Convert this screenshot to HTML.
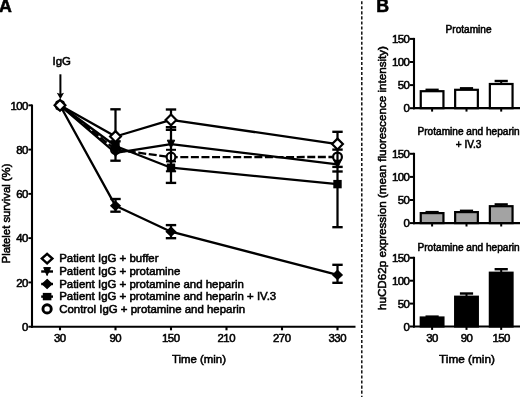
<!DOCTYPE html>
<html><head><meta charset="utf-8"><title>Figure</title>
<style>html,body{margin:0;padding:0;background:#fff}svg{display:block}</style>
</head><body>
<svg width="520" height="397" viewBox="0 0 520 397" font-family="Liberation Sans, Arial, Helvetica, sans-serif" fill="#000"><style>text{stroke:#000;stroke-width:0.55px;paint-order:stroke}</style>
<rect width="520" height="397" fill="#fff"/>
<text x="-0.9" y="12.3" font-size="17.8" font-weight="bold">A</text>
<text x="376.3" y="12.3" font-size="17.8" font-weight="bold">B</text>
<line x1="32.00" y1="104.50" x2="32.00" y2="327.75" stroke="#000" stroke-width="2.1" />
<line x1="30.95" y1="326.70" x2="355.50" y2="326.70" stroke="#000" stroke-width="2.1" />
<line x1="28.40" y1="326.70" x2="32.00" y2="326.70" stroke="#000" stroke-width="1.9000000000000001" />
<text x="27.9" y="330.90" font-size="11.4" text-anchor="end" letter-spacing="-0.5">0</text>
<line x1="28.40" y1="282.42" x2="32.00" y2="282.42" stroke="#000" stroke-width="1.9000000000000001" />
<text x="27.9" y="286.62" font-size="11.4" text-anchor="end" letter-spacing="-0.5">20</text>
<line x1="28.40" y1="238.14" x2="32.00" y2="238.14" stroke="#000" stroke-width="1.9000000000000001" />
<text x="27.9" y="242.34" font-size="11.4" text-anchor="end" letter-spacing="-0.5">40</text>
<line x1="28.40" y1="193.86" x2="32.00" y2="193.86" stroke="#000" stroke-width="1.9000000000000001" />
<text x="27.9" y="198.06" font-size="11.4" text-anchor="end" letter-spacing="-0.5">60</text>
<line x1="28.40" y1="149.58" x2="32.00" y2="149.58" stroke="#000" stroke-width="1.9000000000000001" />
<text x="27.9" y="153.78" font-size="11.4" text-anchor="end" letter-spacing="-0.5">80</text>
<line x1="28.40" y1="105.30" x2="32.00" y2="105.30" stroke="#000" stroke-width="1.9000000000000001" />
<text x="27.9" y="109.50" font-size="11.4" text-anchor="end" letter-spacing="-0.5">100</text>
<line x1="60.00" y1="326.70" x2="60.00" y2="330.30" stroke="#000" stroke-width="2.1" />
<text x="59.80" y="341.8" font-size="11.4" text-anchor="middle" letter-spacing="-0.5">30</text>
<line x1="115.50" y1="326.70" x2="115.50" y2="330.30" stroke="#000" stroke-width="2.1" />
<text x="115.30" y="341.8" font-size="11.4" text-anchor="middle" letter-spacing="-0.5">90</text>
<line x1="171.00" y1="326.70" x2="171.00" y2="330.30" stroke="#000" stroke-width="2.1" />
<text x="170.80" y="341.8" font-size="11.4" text-anchor="middle" letter-spacing="-0.5">150</text>
<line x1="226.50" y1="326.70" x2="226.50" y2="330.30" stroke="#000" stroke-width="2.1" />
<text x="226.30" y="341.8" font-size="11.4" text-anchor="middle" letter-spacing="-0.5">210</text>
<line x1="282.00" y1="326.70" x2="282.00" y2="330.30" stroke="#000" stroke-width="2.1" />
<text x="281.80" y="341.8" font-size="11.4" text-anchor="middle" letter-spacing="-0.5">270</text>
<line x1="337.50" y1="326.70" x2="337.50" y2="330.30" stroke="#000" stroke-width="2.1" />
<text x="337.30" y="341.8" font-size="11.4" text-anchor="middle" letter-spacing="-0.5">330</text>
<text x="199" y="363" font-size="11.4" text-anchor="middle">Time (min)</text>
<text transform="translate(9.8 213.5) rotate(-90)" font-size="11.3" text-anchor="middle">Platelet survival (%)</text>
<text x="61.8" y="65" font-size="11.4" text-anchor="middle">IgG</text>
<line x1="60.40" y1="74.30" x2="60.40" y2="94.50" stroke="#000" stroke-width="2.0" />
<path d="M56.8 92.8 L60.4 99.2 L64.0 92.8 L60.4 94.0 Z" fill="#000"/>
<polyline points="60.00,105.30 115.50,149.69 171.00,157.11 337.50,157.00" fill="none" stroke="#000" stroke-width="2.3" stroke-linejoin="round" stroke-dasharray="8.0 2.58" stroke-dashoffset="1.18"/>
<circle cx="60.00" cy="105.30" r="4.4" fill="#fff" stroke="#000" stroke-width="2.2"/>
<circle cx="115.50" cy="149.69" r="4.4" fill="#fff" stroke="#000" stroke-width="2.2"/>
<circle cx="171.00" cy="157.11" r="4.4" fill="#fff" stroke="#000" stroke-width="2.2"/>
<circle cx="337.50" cy="157.00" r="4.4" fill="#fff" stroke="#000" stroke-width="2.2"/>
<line x1="115.50" y1="109.30" x2="115.50" y2="160.70" stroke="#000" stroke-width="2.25" />
<line x1="110.30" y1="109.30" x2="120.70" y2="109.30" stroke="#000" stroke-width="2.35" />
<line x1="110.30" y1="141.30" x2="120.70" y2="141.30" stroke="#000" stroke-width="2.35" />
<line x1="110.30" y1="160.70" x2="120.70" y2="160.70" stroke="#000" stroke-width="2.35" />
<line x1="115.50" y1="199.00" x2="115.50" y2="211.70" stroke="#000" stroke-width="2.25" />
<line x1="110.30" y1="199.00" x2="120.70" y2="199.00" stroke="#000" stroke-width="2.35" />
<line x1="110.30" y1="211.70" x2="120.70" y2="211.70" stroke="#000" stroke-width="2.35" />
<line x1="171.00" y1="109.50" x2="171.00" y2="182.90" stroke="#000" stroke-width="2.25" />
<line x1="165.80" y1="109.50" x2="176.20" y2="109.50" stroke="#000" stroke-width="2.35" />
<line x1="165.80" y1="127.20" x2="176.20" y2="127.20" stroke="#000" stroke-width="2.35" />
<line x1="165.80" y1="129.80" x2="176.20" y2="129.80" stroke="#000" stroke-width="2.35" />
<line x1="165.80" y1="182.90" x2="176.20" y2="182.90" stroke="#000" stroke-width="2.35" />
<line x1="166.00" y1="149.80" x2="176.00" y2="149.80" stroke="#000" stroke-width="2.0" />
<line x1="166.00" y1="161.40" x2="176.00" y2="161.40" stroke="#000" stroke-width="2.0" />
<line x1="165.90" y1="171.30" x2="176.10" y2="171.30" stroke="#000" stroke-width="2.0" />
<line x1="171.00" y1="225.10" x2="171.00" y2="238.20" stroke="#000" stroke-width="2.25" />
<line x1="165.80" y1="225.10" x2="176.20" y2="225.10" stroke="#000" stroke-width="2.35" />
<line x1="165.80" y1="238.20" x2="176.20" y2="238.20" stroke="#000" stroke-width="2.35" />
<line x1="337.50" y1="131.80" x2="337.50" y2="227.20" stroke="#000" stroke-width="2.25" />
<line x1="332.30" y1="131.80" x2="342.70" y2="131.80" stroke="#000" stroke-width="2.35" />
<line x1="332.30" y1="149.60" x2="342.70" y2="149.60" stroke="#000" stroke-width="2.35" />
<line x1="332.30" y1="166.90" x2="342.70" y2="166.90" stroke="#000" stroke-width="2.35" />
<line x1="332.30" y1="171.50" x2="342.70" y2="171.50" stroke="#000" stroke-width="2.35" />
<line x1="332.30" y1="227.20" x2="342.70" y2="227.20" stroke="#000" stroke-width="2.35" />
<line x1="337.50" y1="264.80" x2="337.50" y2="282.80" stroke="#000" stroke-width="2.25" />
<line x1="332.30" y1="264.80" x2="342.70" y2="264.80" stroke="#000" stroke-width="2.35" />
<line x1="332.30" y1="282.80" x2="342.70" y2="282.80" stroke="#000" stroke-width="2.35" />
<polyline points="60.00,105.30 115.50,146.04 171.00,167.73 337.50,184.12" fill="none" stroke="#000" stroke-width="2.3" stroke-linejoin="round"  />
<polyline points="60.00,105.30 115.50,205.82 171.00,231.72 337.50,274.89" fill="none" stroke="#000" stroke-width="2.3" stroke-linejoin="round"  />
<polyline points="60.00,105.30 115.50,152.90 171.00,144.16 337.50,164.30" fill="none" stroke="#000" stroke-width="2.3" stroke-linejoin="round"  />
<polyline points="60.00,105.30 115.50,136.52 171.00,119.91 337.50,144.05" fill="none" stroke="#000" stroke-width="2.3" stroke-linejoin="round"  />
<rect x="55.80" y="101.10" width="8.40" height="8.40" fill="#000"/>
<rect x="111.30" y="141.84" width="8.40" height="8.40" fill="#000"/>
<rect x="166.80" y="163.53" width="8.40" height="8.40" fill="#000"/>
<rect x="333.30" y="179.92" width="8.40" height="8.40" fill="#000"/>
<path d="M60.00 100.90 L64.60 105.30 L60.00 109.70 L55.40 105.30 Z" fill="#000" stroke="#000" stroke-width="1.4" stroke-linejoin="miter"/>
<path d="M115.50 201.42 L120.10 205.82 L115.50 210.22 L110.90 205.82 Z" fill="#000" stroke="#000" stroke-width="1.4" stroke-linejoin="miter"/>
<path d="M171.00 227.32 L175.60 231.72 L171.00 236.12 L166.40 231.72 Z" fill="#000" stroke="#000" stroke-width="1.4" stroke-linejoin="miter"/>
<path d="M337.50 270.49 L342.10 274.89 L337.50 279.29 L332.90 274.89 Z" fill="#000" stroke="#000" stroke-width="1.4" stroke-linejoin="miter"/>
<path d="M56.30 101.30 L63.70 101.30 L60.00 109.30 Z" fill="#000" stroke="#000" stroke-width="1.0"/>
<path d="M111.80 148.90 L119.20 148.90 L115.50 156.90 Z" fill="#000" stroke="#000" stroke-width="1.0"/>
<path d="M167.30 140.16 L174.70 140.16 L171.00 148.16 Z" fill="#000" stroke="#000" stroke-width="1.0"/>
<path d="M333.80 160.30 L341.20 160.30 L337.50 168.30 Z" fill="#000" stroke="#000" stroke-width="1.0"/>
<path d="M60.00 99.90 L65.40 105.30 L60.00 110.70 L54.60 105.30 Z" fill="#fff" stroke="#000" stroke-width="2.2" stroke-linejoin="miter"/>
<path d="M115.50 131.12 L120.90 136.52 L115.50 141.92 L110.10 136.52 Z" fill="#fff" stroke="#000" stroke-width="2.2" stroke-linejoin="miter"/>
<path d="M171.00 114.51 L176.40 119.91 L171.00 125.31 L165.60 119.91 Z" fill="#fff" stroke="#000" stroke-width="2.2" stroke-linejoin="miter"/>
<path d="M337.50 138.65 L342.90 144.05 L337.50 149.45 L332.10 144.05 Z" fill="#fff" stroke="#000" stroke-width="2.2" stroke-linejoin="miter"/>
<path d="M47.10 253.80 L52.40 258.60 L47.10 263.40 L41.80 258.60 Z" fill="#fff" stroke="#000" stroke-width="2.4" stroke-linejoin="miter"/>
<text x="59.2" y="262.30" font-size="11.45">Patient IgG + buffer</text>
<line x1="41.20" y1="271.50" x2="53.00" y2="271.50" stroke="#000" stroke-width="2.4" />
<path d="M43.70 267.60 L50.50 267.60 L47.10 275.60 Z" fill="#000" stroke="#000" stroke-width="1.0"/>
<text x="59.2" y="275.20" font-size="11.45">Patient IgG + protamine</text>
<line x1="41.20" y1="284.00" x2="53.00" y2="284.00" stroke="#000" stroke-width="2.4" />
<path d="M47.10 279.60 L51.70 284.00 L47.10 288.40 L42.50 284.00 Z" fill="#000" stroke="#000" stroke-width="1.4" stroke-linejoin="miter"/>
<text x="59.2" y="287.70" font-size="11.45">Patient IgG + protamine and heparin</text>
<line x1="41.20" y1="296.60" x2="53.00" y2="296.60" stroke="#000" stroke-width="2.4" />
<rect x="42.80" y="292.90" width="8.6" height="7.4" fill="#000"/>
<text x="59.2" y="300.30" font-size="11.45">Patient IgG + protamine and heparin + IV.3</text>
<circle cx="47.10" cy="308.90" r="4.15" fill="#fff" stroke="#000" stroke-width="2.9"/>
<text x="59.2" y="312.70" font-size="11.45">Control IgG + protamine and heparin</text>
<line x1="361.8" y1="-3.857" x2="361.8" y2="400" stroke="#000" stroke-width="1.4" stroke-dasharray="3.1 1.957"/>
<line x1="432.10" y1="89.80" x2="432.10" y2="91.20" stroke="#000" stroke-width="2.0" />
<line x1="425.50" y1="89.80" x2="438.70" y2="89.80" stroke="#000" stroke-width="2.4" />
<rect x="420.75" y="91.20" width="22.70" height="17.00" fill="#fff" stroke="#000" stroke-width="2.2"/>
<line x1="466.50" y1="88.30" x2="466.50" y2="89.80" stroke="#000" stroke-width="2.0" />
<line x1="459.90" y1="88.30" x2="473.10" y2="88.30" stroke="#000" stroke-width="2.4" />
<rect x="455.15" y="89.80" width="22.70" height="18.40" fill="#fff" stroke="#000" stroke-width="2.2"/>
<line x1="501.20" y1="81.00" x2="501.20" y2="84.00" stroke="#000" stroke-width="2.0" />
<line x1="494.60" y1="81.00" x2="507.80" y2="81.00" stroke="#000" stroke-width="2.4" />
<rect x="489.85" y="84.00" width="22.70" height="24.20" fill="#fff" stroke="#000" stroke-width="2.2"/>
<line x1="414.00" y1="37.90" x2="414.00" y2="109.30" stroke="#000" stroke-width="2.1" />
<line x1="413.10" y1="108.20" x2="520.00" y2="108.20" stroke="#000" stroke-width="2.2" />
<line x1="409.60" y1="108.20" x2="414.00" y2="108.20" stroke="#000" stroke-width="2.0" />
<text x="409.2" y="112.30" font-size="11.4" text-anchor="end" letter-spacing="-0.6">0</text>
<line x1="409.60" y1="85.10" x2="414.00" y2="85.10" stroke="#000" stroke-width="2.0" />
<text x="409.2" y="89.20" font-size="11.4" text-anchor="end" letter-spacing="-0.6">50</text>
<line x1="409.60" y1="62.00" x2="414.00" y2="62.00" stroke="#000" stroke-width="2.0" />
<text x="409.2" y="66.10" font-size="11.4" text-anchor="end" letter-spacing="-0.6">100</text>
<line x1="409.60" y1="38.90" x2="414.00" y2="38.90" stroke="#000" stroke-width="2.0" />
<text x="409.2" y="43.00" font-size="11.4" text-anchor="end" letter-spacing="-0.6">150</text>
<line x1="432.10" y1="108.20" x2="432.10" y2="111.60" stroke="#000" stroke-width="2.0" />
<line x1="466.50" y1="108.20" x2="466.50" y2="111.60" stroke="#000" stroke-width="2.0" />
<line x1="501.20" y1="108.20" x2="501.20" y2="111.60" stroke="#000" stroke-width="2.0" />
<text x="468.6" y="33.00" font-size="10.1" text-anchor="middle">Protamine</text>
<line x1="432.10" y1="212.10" x2="432.10" y2="213.10" stroke="#000" stroke-width="2.0" />
<line x1="425.50" y1="212.10" x2="438.70" y2="212.10" stroke="#000" stroke-width="2.4" />
<rect x="420.75" y="213.10" width="22.70" height="10.00" fill="#a3a3a3" stroke="#000" stroke-width="2.2"/>
<line x1="466.50" y1="210.80" x2="466.50" y2="212.10" stroke="#000" stroke-width="2.0" />
<line x1="459.90" y1="210.80" x2="473.10" y2="210.80" stroke="#000" stroke-width="2.4" />
<rect x="455.15" y="212.10" width="22.70" height="11.00" fill="#a3a3a3" stroke="#000" stroke-width="2.2"/>
<line x1="501.20" y1="204.40" x2="501.20" y2="206.20" stroke="#000" stroke-width="2.0" />
<line x1="494.60" y1="204.40" x2="507.80" y2="204.40" stroke="#000" stroke-width="2.4" />
<rect x="489.85" y="206.20" width="22.70" height="16.90" fill="#a3a3a3" stroke="#000" stroke-width="2.2"/>
<line x1="414.00" y1="152.80" x2="414.00" y2="224.20" stroke="#000" stroke-width="2.1" />
<line x1="413.10" y1="223.10" x2="520.00" y2="223.10" stroke="#000" stroke-width="2.2" />
<line x1="409.60" y1="223.10" x2="414.00" y2="223.10" stroke="#000" stroke-width="2.0" />
<text x="409.2" y="227.20" font-size="11.4" text-anchor="end" letter-spacing="-0.6">0</text>
<line x1="409.60" y1="200.00" x2="414.00" y2="200.00" stroke="#000" stroke-width="2.0" />
<text x="409.2" y="204.10" font-size="11.4" text-anchor="end" letter-spacing="-0.6">50</text>
<line x1="409.60" y1="176.90" x2="414.00" y2="176.90" stroke="#000" stroke-width="2.0" />
<text x="409.2" y="181.00" font-size="11.4" text-anchor="end" letter-spacing="-0.6">100</text>
<line x1="409.60" y1="153.80" x2="414.00" y2="153.80" stroke="#000" stroke-width="2.0" />
<text x="409.2" y="157.90" font-size="11.4" text-anchor="end" letter-spacing="-0.6">150</text>
<line x1="432.10" y1="223.10" x2="432.10" y2="226.50" stroke="#000" stroke-width="2.0" />
<line x1="466.50" y1="223.10" x2="466.50" y2="226.50" stroke="#000" stroke-width="2.0" />
<line x1="501.20" y1="223.10" x2="501.20" y2="226.50" stroke="#000" stroke-width="2.0" />
<text x="468.6" y="135.20" font-size="10.1" text-anchor="middle">Protamine and heparin</text>
<text x="468.6" y="147.50" font-size="10.1" text-anchor="middle">+ IV.3</text>
<line x1="432.10" y1="316.60" x2="432.10" y2="317.50" stroke="#000" stroke-width="2.0" />
<line x1="425.50" y1="316.60" x2="438.70" y2="316.60" stroke="#000" stroke-width="2.4" />
<rect x="420.75" y="317.50" width="22.70" height="9.00" fill="#000" stroke="#000" stroke-width="2.2"/>
<line x1="466.50" y1="293.50" x2="466.50" y2="296.70" stroke="#000" stroke-width="2.0" />
<line x1="459.90" y1="293.50" x2="473.10" y2="293.50" stroke="#000" stroke-width="2.4" />
<rect x="455.15" y="296.70" width="22.70" height="29.80" fill="#000" stroke="#000" stroke-width="2.2"/>
<line x1="501.20" y1="269.20" x2="501.20" y2="272.70" stroke="#000" stroke-width="2.0" />
<line x1="494.60" y1="269.20" x2="507.80" y2="269.20" stroke="#000" stroke-width="2.4" />
<rect x="489.85" y="272.70" width="22.70" height="53.80" fill="#000" stroke="#000" stroke-width="2.2"/>
<line x1="414.00" y1="256.80" x2="414.00" y2="327.60" stroke="#000" stroke-width="2.1" />
<line x1="413.10" y1="326.50" x2="520.00" y2="326.50" stroke="#000" stroke-width="2.2" />
<line x1="409.60" y1="326.50" x2="414.00" y2="326.50" stroke="#000" stroke-width="2.0" />
<text x="409.2" y="330.60" font-size="11.4" text-anchor="end" letter-spacing="-0.6">0</text>
<line x1="409.60" y1="303.60" x2="414.00" y2="303.60" stroke="#000" stroke-width="2.0" />
<text x="409.2" y="307.70" font-size="11.4" text-anchor="end" letter-spacing="-0.6">50</text>
<line x1="409.60" y1="280.70" x2="414.00" y2="280.70" stroke="#000" stroke-width="2.0" />
<text x="409.2" y="284.80" font-size="11.4" text-anchor="end" letter-spacing="-0.6">100</text>
<line x1="409.60" y1="257.80" x2="414.00" y2="257.80" stroke="#000" stroke-width="2.0" />
<text x="409.2" y="261.90" font-size="11.4" text-anchor="end" letter-spacing="-0.6">150</text>
<line x1="432.10" y1="326.50" x2="432.10" y2="329.90" stroke="#000" stroke-width="2.0" />
<line x1="466.50" y1="326.50" x2="466.50" y2="329.90" stroke="#000" stroke-width="2.0" />
<line x1="501.20" y1="326.50" x2="501.20" y2="329.90" stroke="#000" stroke-width="2.0" />
<text x="468.6" y="250.90" font-size="10.1" text-anchor="middle">Protamine and heparin</text>
<text x="432.10" y="341.5" font-size="11.4" text-anchor="middle" letter-spacing="-0.5">30</text>
<text x="466.50" y="341.5" font-size="11.4" text-anchor="middle" letter-spacing="-0.5">90</text>
<text x="501.20" y="341.5" font-size="11.4" text-anchor="middle" letter-spacing="-0.5">150</text>
<text x="467" y="362.8" font-size="11.8" text-anchor="middle">Time (min)</text>
<text transform="translate(386.2 178) rotate(-90)" font-size="11.65" text-anchor="middle">huCD62p expression (mean fluorescence intensity)</text>
</svg>
</body></html>
